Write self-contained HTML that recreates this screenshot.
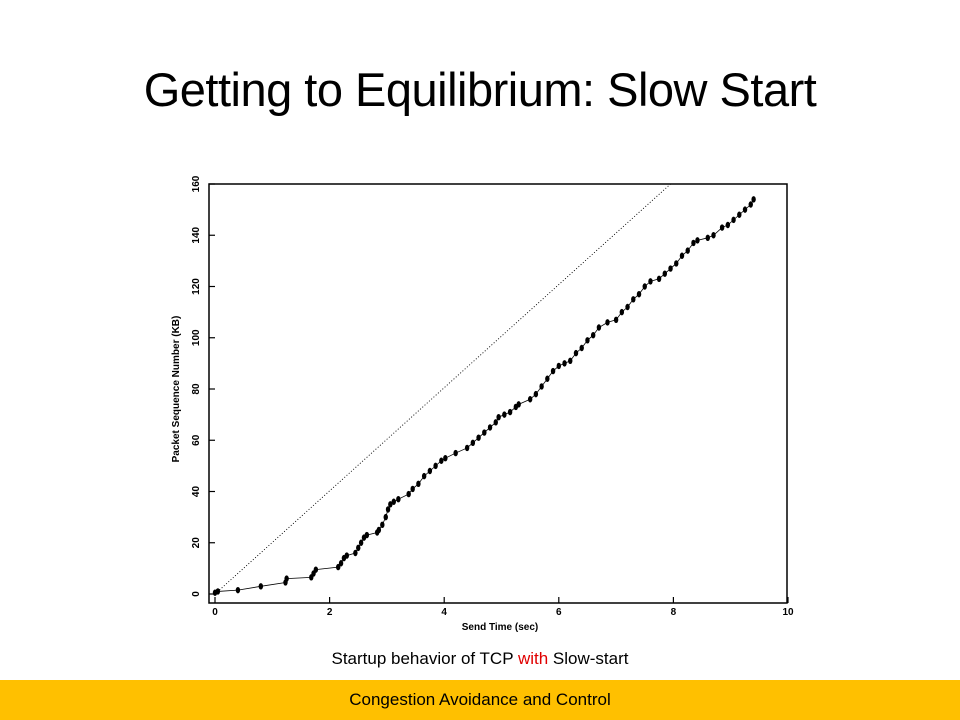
<!DOCTYPE html>
<html><head><meta charset="utf-8"><style>
html,body{margin:0;padding:0;background:#fff;}
#wrap{position:relative;width:960px;height:720px;overflow:hidden;font-family:"Liberation Sans",sans-serif;}
#title{position:absolute;left:0;top:62px;width:960px;text-align:center;font-size:47px;color:#000;letter-spacing:-0.5px;}
#caption{position:absolute;left:0;top:649px;width:960px;text-align:center;font-size:17px;color:#000;}
#footer{position:absolute;left:0;top:680px;width:960px;height:40px;background:#FFC000;text-align:center;font-size:17px;line-height:40px;color:#000;}
</style></head><body>
<div id="wrap">
<div id="title">Getting to Equilibrium: Slow Start</div>
<svg id="chart" width="960" height="720" style="position:absolute;left:0;top:0" xmlns="http://www.w3.org/2000/svg"></svg>
<div id="caption">Startup behavior of TCP <span style="color:#e00000">with</span> Slow-start</div>
<div id="footer">Congestion Avoidance and Control</div>
</div>
<script>
const xTicks=[0,2,4,6,8,10];
const yTicks=[0,20,40,60,80,100,120,140,160];
const refLine=[[0,0],[7.95,160]];
const times=[0,0.05,0.4,0.8,1.23,1.25,1.68,1.72,1.76,2.15,2.2,2.25,2.3,2.45,2.5,2.55,2.6,2.65,2.83,2.86,2.92,2.98,3.02,3.06,3.12,3.2,3.38,3.45,3.55,3.65,3.75,3.85,3.95,4.02,4.2,4.4,4.5,4.6,4.7,4.8,4.9,4.95,5.05,5.15,5.25,5.3,5.5,5.6,5.7,5.8,5.9,6.0,6.1,6.2,6.3,6.4,6.5,6.6,6.7,6.85,7.0,7.1,7.2,7.3,7.4,7.5,7.6,7.75,7.85,7.95,8.05,8.15,8.25,8.35,8.42,8.6,8.7,8.85,8.95,9.05,9.15,9.25,9.35,9.4];
const kbytes=[0.5,1,1.5,3,4.5,6,6.5,8,9.5,10.5,12,14,15,16,18,20,22,23,24,25,27,30,33,35,36,37,39,41,43,46,48,50,52,53,55,57,59,61,63,65,67,69,70,71,73,74,76,78,81,84,87,89,90,91,94,96,99,101,104,106,107,110,112,115,117,120,122,123,125,127,129,132,134,137,138,139,140,143,144,146,148,150,152,154];
const NS="http://www.w3.org/2000/svg";
const svg=document.getElementById('chart');
const X0=215,X1=788,Y0=594,Y1=184;
function sx(v){return X0+(v-0)/(10-0)*(X1-X0);}
function sy(v){return Y0-(v-0)/(160-0)*(Y0-Y1);}
function mk(tag,attrs){const e=document.createElementNS(NS,tag);for(const k in attrs)e.setAttribute(k,attrs[k]);svg.appendChild(e);return e;}
const frame=mk('rect',{x:209,y:184,width:578,height:419,fill:'none',stroke:'#000','stroke-width':1.5});


xTicks.forEach(t=>{
  const l=mk('line',{x1:sx(t),x2:sx(t),y1:603,y2:597,stroke:'#000','stroke-width':1.2});
  
  
  const tx=mk('text',{x:sx(t),y:615,'font-size':10,'font-weight':'bold','text-anchor':'middle','font-family':'Liberation Sans, sans-serif'});
  tx.textContent=t;
  
  
});
yTicks.forEach(t=>{
  const l=mk('line',{x1:209,x2:215,y1:sy(t),y2:sy(t),stroke:'#000','stroke-width':1.2});
  
  
  const tx=mk('text',{x:0,y:0,'font-size':10,'font-weight':'bold','text-anchor':'middle','font-family':'Liberation Sans, sans-serif',transform:`translate(199,${sy(t)}) rotate(-90)`});
  tx.textContent=t;
  
  
});
const xt=mk('text',{x:500,y:630,'font-size':10,'font-weight':'bold','text-anchor':'middle','font-family':'Liberation Sans, sans-serif'});
xt.textContent='Send Time (sec)';


const yt=mk('text',{x:0,y:0,'font-size':10,'font-weight':'bold','text-anchor':'middle','font-family':'Liberation Sans, sans-serif',transform:'translate(179,389) rotate(-90)'});
yt.textContent='Packet Sequence Number (KB)';


const rl=mk('line',{x1:sx(refLine[0][0]),y1:sy(refLine[0][1]),x2:sx(refLine[1][0]),y2:sy(refLine[1][1]),stroke:'#000','stroke-width':0.9,'stroke-dasharray':'1,2'});


let d='';
times.forEach((t,i)=>{d+=(i?'L':'M')+sx(t)+','+sy(kbytes[i]);});
const pl=mk('path',{d:d,fill:'none',stroke:'#000','stroke-width':0.8});


times.forEach((t,i)=>{
  const c=mk('ellipse',{cx:sx(t),cy:sy(kbytes[i]),rx:2.2,ry:3.2,fill:'#000'});
  
  
});
</script>
</body></html>
